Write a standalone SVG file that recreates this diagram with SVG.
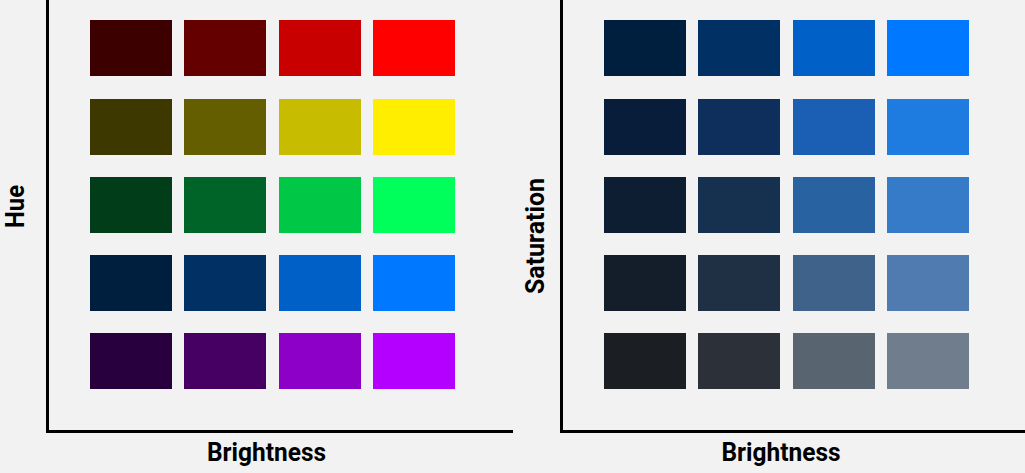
<svg xmlns="http://www.w3.org/2000/svg" width="1025" height="473" viewBox="0 0 1025 473">
<style>
.lbl{font-family:Roboto,"Liberation Sans",sans-serif;font-weight:700;font-size:25px;fill:#000}
.ax{fill:#000}
</style>
<rect width="1025" height="473" fill="#f2f2f2"/>
<g id="axes">
<rect class="ax" x="46" y="0" width="3" height="433"/>
<rect class="ax" x="46" y="430" width="467" height="3"/>
<rect class="ax" x="560" y="0" width="3" height="433"/>
<rect class="ax" x="560" y="430" width="465" height="3"/>
</g>
<g id="hue-panel">
<g id="h-r"><rect x="90" y="20" width="82" height="56" fill="#3d0000"/><rect x="184" y="20" width="82" height="56" fill="#650000"/><rect x="279" y="20" width="82" height="56" fill="#c80000"/><rect x="373" y="20" width="82" height="56" fill="#ff0000"/></g>
<g id="h-y"><rect x="90" y="99" width="82" height="56" fill="#3d3800"/><rect x="184" y="99" width="82" height="56" fill="#655e00"/><rect x="279" y="99" width="82" height="56" fill="#c8bc00"/><rect x="373" y="99" width="82" height="56" fill="#ffee00"/></g>
<g id="h-g"><rect x="90" y="177" width="82" height="56" fill="#003d18"/><rect x="184" y="177" width="82" height="56" fill="#006428"/><rect x="279" y="177" width="82" height="56" fill="#00c846"/><rect x="373" y="177" width="82" height="56" fill="#00ff5a"/></g>
<g id="h-b"><rect x="90" y="255" width="82" height="56" fill="#001e3d"/><rect x="184" y="255" width="82" height="56" fill="#003064"/><rect x="279" y="255" width="82" height="56" fill="#0060c8"/><rect x="373" y="255" width="82" height="56" fill="#0078ff"/></g>
<g id="h-p"><rect x="90" y="333" width="82" height="56" fill="#28003d"/><rect x="184" y="333" width="82" height="56" fill="#460064"/><rect x="279" y="333" width="82" height="56" fill="#8c00c8"/><rect x="373" y="333" width="82" height="56" fill="#b400ff"/></g>
</g>
<g id="sat-panel">
<g id="s-1"><rect x="604" y="20" width="82" height="56" fill="#001e3d"/><rect x="698" y="20" width="82" height="56" fill="#003064"/><rect x="793" y="20" width="82" height="56" fill="#0060c8"/><rect x="887" y="20" width="82" height="56" fill="#0078ff"/></g>
<g id="s-2"><rect x="604" y="99" width="82" height="56" fill="#071d3a"/><rect x="698" y="99" width="82" height="56" fill="#0e2f5c"/><rect x="793" y="99" width="82" height="56" fill="#1a5fb3"/><rect x="887" y="99" width="82" height="56" fill="#1e7be0"/></g>
<g id="s-3"><rect x="604" y="177" width="82" height="56" fill="#0d1d32"/><rect x="698" y="177" width="82" height="56" fill="#16304f"/><rect x="793" y="177" width="82" height="56" fill="#2962a0"/><rect x="887" y="177" width="82" height="56" fill="#367bc8"/></g>
<g id="s-4"><rect x="604" y="255" width="82" height="56" fill="#141e2a"/><rect x="698" y="255" width="82" height="56" fill="#1f3045"/><rect x="793" y="255" width="82" height="56" fill="#3f628a"/><rect x="887" y="255" width="82" height="56" fill="#4f7bb0"/></g>
<g id="s-5"><rect x="604" y="333" width="82" height="56" fill="#1b1f24"/><rect x="698" y="333" width="82" height="56" fill="#2c3139"/><rect x="793" y="333" width="82" height="56" fill="#586470"/><rect x="887" y="333" width="82" height="56" fill="#707d8c"/></g>
</g>
<g id="labels">
<text class="lbl" x="266.5" y="461" text-anchor="middle" textLength="119" lengthAdjust="spacingAndGlyphs">Brightness</text>
<text class="lbl" x="781" y="461" text-anchor="middle" textLength="119" lengthAdjust="spacingAndGlyphs">Brightness</text>
<text class="lbl" transform="translate(24,206.5) rotate(-90)" text-anchor="middle" textLength="43" lengthAdjust="spacingAndGlyphs">Hue</text>
<text class="lbl" transform="translate(544,236) rotate(-90)" text-anchor="middle" textLength="116" lengthAdjust="spacingAndGlyphs">Saturation</text>
</g>
</svg>
